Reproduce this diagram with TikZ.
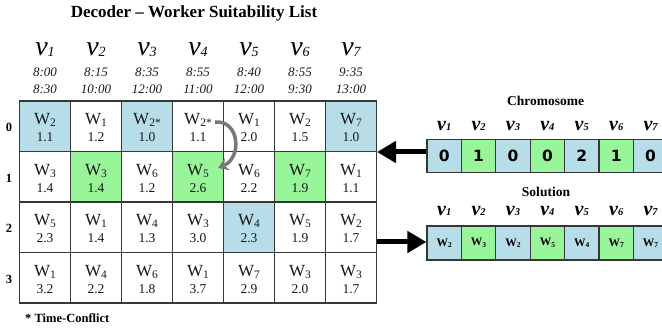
\documentclass[tikz,border=0pt]{standalone}
\usepackage{fontspec}
\setmainfont{Liberation Serif}
\newfontfamily\digfont{DejaVu Sans}
\usetikzlibrary{arrows.meta}
\definecolor{cblue}{RGB}{183,221,232}
\definecolor{cgreen}{RGB}{153,245,153}
\definecolor{gridc}{RGB}{55,55,55}
\definecolor{txt}{RGB}{25,25,25}
\definecolor{curvec}{RGB}{120,120,120}

\newcommand\fs[1]{\fontsize{#1}{#1}\selectfont}
\newcommand\lowsub[3]{\raisebox{-#2pt}{\fs{#1}#3}}
\newcommand\bigv[1]{{\fs{28}\itshape v}\lowsub{14}{0.3}{\itshape #1}}
\newcommand\smallv[1]{{\fs{20}\bfseries\itshape v\lowsub{10.5}{0.3}{#1}}}

\tikzset{
  cellbox/.style={draw=gridc, line width=1.2pt, minimum width=51pt, minimum height=50.5pt, inner sep=0pt},
  wtext/.style={anchor=base, inner sep=0pt, text=txt, font=\fs{17}},
  ntext/.style={anchor=base, inner sep=0pt, text=txt, font=\fs{13.5}},
  rowlab/.style={inner sep=0pt, font=\fs{12.5}\bfseries},
  headv/.style={anchor=base, inner sep=0pt},
  timetext/.style={anchor=base, inner sep=0pt, font=\fs{13}\itshape, text=txt},
  chbox/.style={draw=gridc, line width=1.2pt, minimum width=34.4pt, minimum height=33pt, inner sep=0pt, font=\digfont\fs{15.5}\bfseries},
  solbox/.style={draw=gridc, line width=1.2pt, minimum width=34.4pt, minimum height=34pt, inner sep=0pt, font=\fs{11.5}\bfseries},
  panlab/.style={anchor=base, inner sep=0pt, font=\fs{13.5}\bfseries},
  bigarrow/.style={line width=5pt, -{Triangle[length=19pt,width=21pt]}},
  curvearrow/.style={draw=curvec, line width=3.5pt, -{Stealth[length=10pt,width=13pt]}}
}

\newcommand\wcell[6]{%
  \node[cellbox, fill=#4] (#1) at (#2,-#3) {};
  \node[wtext] (#1w) at ([yshift=1.25pt]#1.center) {W\lowsub{11.5}{2}{#5}};
  \node[ntext] (#1n) at ([yshift=-15.75pt]#1.center) {#6};
}
\newcommand\cbx[4]{\node[chbox, fill=#3] (#1) at (#2,-156) {#4};}
\newcommand\sbx[4]{\node[solbox, fill=#3] (#1) at (#2,-243) {W\lowsub{7.5}{1.5}{#4}};}

\begin{document}
\begin{tikzpicture}[x=1pt,y=1pt]
\clip (0,0) rectangle (662,-331);
\fill[white] (0,0) rectangle (662,-331);

% title
\node[anchor=base, inner sep=0pt, font=\fs{17}\bfseries] (title) at (194,-17.5) {Decoder – Worker Suitability List};

% column headers
\node[headv] (h1) at (45,-56) {\bigv{1}};
\node[headv] (h2) at (96,-56) {\bigv{2}};
\node[headv] (h3) at (147,-56) {\bigv{3}};
\node[headv] (h4) at (198,-56) {\bigv{4}};
\node[headv] (h5) at (249,-56) {\bigv{5}};
\node[headv] (h6) at (300,-56) {\bigv{6}};
\node[headv] (h7) at (351,-56) {\bigv{7}};

\node[timetext] (s1) at (45,-76.7) {8:00};
\node[timetext] (s2) at (96,-76.7) {8:15};
\node[timetext] (s3) at (147,-76.7) {8:35};
\node[timetext] (s4) at (198,-76.7) {8:55};
\node[timetext] (s5) at (249,-76.7) {8:40};
\node[timetext] (s6) at (300,-76.7) {8:55};
\node[timetext] (s7) at (351,-76.7) {9:35};
\node[timetext] (e1) at (45,-94) {8:30};
\node[timetext] (e2) at (96,-94) {10:00};
\node[timetext] (e3) at (147,-94) {12:00};
\node[timetext] (e4) at (198,-94) {11:00};
\node[timetext] (e5) at (249,-94) {12:00};
\node[timetext] (e6) at (300,-94) {9:30};
\node[timetext] (e7) at (351,-94) {13:00};

% table
\wcell{c01}{45}{126.25}{cblue}{2}{1.1}
\wcell{c02}{96}{126.25}{white}{1}{1.2}
\wcell{c03}{147}{126.25}{cblue}{2*}{1.0}
\wcell{c04}{198}{126.25}{white}{2*}{1.1}
\wcell{c05}{249}{126.25}{white}{1}{2.0}
\wcell{c06}{300}{126.25}{white}{2}{1.5}
\wcell{c07}{351}{126.25}{cblue}{7}{1.0}

\wcell{c11}{45}{176.75}{white}{3}{1.4}
\wcell{c12}{96}{176.75}{cgreen}{3}{1.4}
\wcell{c13}{147}{176.75}{white}{6}{1.2}
\wcell{c14}{198}{176.75}{cgreen}{5}{2.6}
\wcell{c15}{249}{176.75}{white}{6}{2.2}
\wcell{c16}{300}{176.75}{cgreen}{7}{1.9}
\wcell{c17}{351}{176.75}{white}{1}{1.1}

\wcell{c21}{45}{227.25}{white}{5}{2.3}
\wcell{c22}{96}{227.25}{white}{1}{1.4}
\wcell{c23}{147}{227.25}{white}{4}{1.3}
\wcell{c24}{198}{227.25}{white}{3}{3.0}
\wcell{c25}{249}{227.25}{cblue}{4}{2.3}
\wcell{c26}{300}{227.25}{white}{5}{1.9}
\wcell{c27}{351}{227.25}{white}{2}{1.7}

\wcell{c31}{45}{277.75}{white}{1}{3.2}
\wcell{c32}{96}{277.75}{white}{4}{2.2}
\wcell{c33}{147}{277.75}{white}{6}{1.8}
\wcell{c34}{198}{277.75}{white}{1}{3.7}
\wcell{c35}{249}{277.75}{white}{7}{2.9}
\wcell{c36}{300}{277.75}{white}{3}{2.0}
\wcell{c37}{351}{277.75}{white}{3}{1.7}

% row labels
\node[rowlab] (r0) at (9,-127.5) {0};
\node[rowlab] (r1) at (9,-178) {1};
\node[rowlab] (r2) at (9,-228.5) {2};
\node[rowlab] (r3) at (9,-279) {3};

% footnote
\node[anchor=base west, inner sep=0pt, font=\fs{12.5}\bfseries] (note) at (25,-323) {* Time-Conflict};

% curved arrow
\coordinate (cs) at (215,-122);
\coordinate (ce) at (218,-168);
\draw[curvearrow] (cs) .. controls (240,-120) and (242,-158) .. (ce);

% chromosome
\node[panlab] (chl) at (545.5,-106) {Chromosome};
\node[headv] (ch1v) at (444.2,-130.5) {\smallv{1}};
\node[headv] (ch2v) at (478.6,-130.5) {\smallv{2}};
\node[headv] (ch3v) at (513,-130.5) {\smallv{3}};
\node[headv] (ch4v) at (547.4,-130.5) {\smallv{4}};
\node[headv] (ch5v) at (581.8,-130.5) {\smallv{5}};
\node[headv] (ch6v) at (616.2,-130.5) {\smallv{6}};
\node[headv] (ch7v) at (650.6,-130.5) {\smallv{7}};
\cbx{ch1}{444.2}{cblue}{0}
\cbx{ch2}{478.6}{cgreen}{1}
\cbx{ch3}{513}{cblue}{0}
\cbx{ch4}{547.4}{cgreen}{0}
\cbx{ch5}{581.8}{cblue}{2}
\cbx{ch6}{616.2}{cgreen}{1}
\cbx{ch7}{650.6}{cblue}{0}

% solution
\node[panlab] (sll) at (546,-196.7) {Solution};
\node[headv] (so1v) at (444.2,-215.7) {\smallv{1}};
\node[headv] (so2v) at (478.6,-215.7) {\smallv{2}};
\node[headv] (so3v) at (513,-215.7) {\smallv{3}};
\node[headv] (so4v) at (547.4,-215.7) {\smallv{4}};
\node[headv] (so5v) at (581.8,-215.7) {\smallv{5}};
\node[headv] (so6v) at (616.2,-215.7) {\smallv{6}};
\node[headv] (so7v) at (650.6,-215.7) {\smallv{7}};
\sbx{so1}{444.2}{cblue}{2}
\sbx{so2}{478.6}{cgreen}{3}
\sbx{so3}{513}{cblue}{2}
\sbx{so4}{547.4}{cgreen}{5}
\sbx{so5}{581.8}{cblue}{4}
\sbx{so6}{616.2}{cgreen}{7}
\sbx{so7}{650.6}{cblue}{7}

% big arrows
\coordinate (a1e) at (377,-152);
\coordinate (a2s) at (377,-242);
\draw[bigarrow] (ch1.west |- a1e) -- (a1e);
\draw[bigarrow] (a2s) -- (so1.west |- a2s);
\end{tikzpicture}
\end{document}
